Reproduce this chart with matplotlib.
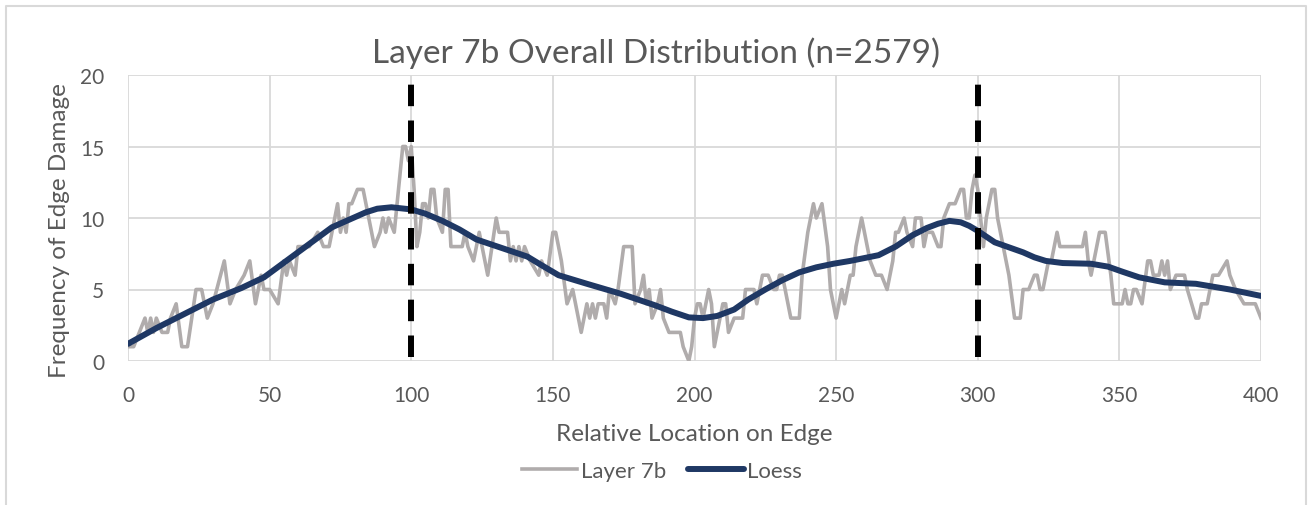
import numpy as np
import matplotlib
matplotlib.use("Agg")
import matplotlib.pyplot as plt
from matplotlib.lines import Line2D

# Layer 7b raw counts
layer_x = [0, 2, 4, 6, 7, 8, 9, 10, 12, 14, 15, 17, 19, 21, 24, 26, 28, 30, 34, 36, 38, 41, 43, 45, 47, 48,
           50, 53, 55, 56, 57, 59, 60, 64, 67, 69, 71, 74, 75, 76, 77, 78, 79, 81, 83, 85, 87, 89, 90, 91, 92, 94,
           95, 97, 98, 99, 100, 101, 102, 103, 104, 105, 106, 107, 108, 109, 111, 112, 113, 114, 118, 119, 120,
           122, 124, 125, 127, 130, 131, 134, 135, 136, 137, 138, 139, 140, 142, 145, 146, 148, 150, 151, 152,
           153, 155, 157, 158, 160, 162, 163, 164, 165, 166, 168, 169, 170, 172, 173, 175, 178, 179, 181, 182,
           183, 184, 185, 187, 188, 189, 191, 195, 196, 198, 199, 200, 201, 202, 203, 205, 206, 207, 208, 210,
           211, 212, 214, 217, 218, 221, 222, 224, 226, 228, 229, 230, 231, 232, 234, 237, 238, 240, 242, 243,
           245, 247, 248, 250, 252, 253, 255, 256, 257, 259, 260, 262, 264, 266, 268, 270, 271, 272, 274, 275,
           277, 278, 280, 281, 282, 284, 286, 287, 288, 290, 292, 294, 295, 296, 297, 298, 299, 300, 301, 302,
           303, 305, 306, 307, 309, 311, 313, 315, 316, 318, 320, 321, 322, 323, 325, 326, 328, 329, 337, 338,
           339, 340, 341, 343, 345, 347, 348, 351, 352, 353, 354, 355, 356, 358, 360, 361, 362, 364, 365, 366,
           367, 368, 370, 373, 374, 377, 378, 379, 381, 383, 385, 388, 389, 391, 394, 398, 400]
layer_y = [1, 1, 2, 3, 2, 3, 2, 3, 2, 2, 3, 4, 1, 1, 5, 5, 3, 4, 7, 4, 5, 6, 7, 4, 6, 5,
           5, 4, 7, 6, 7, 6, 8, 8, 9, 8, 8, 11, 9, 10, 9, 11, 11, 12, 12, 10, 8, 9, 10, 9, 10, 9,
           11, 15, 15, 14, 15, 12, 8, 9, 11, 11, 10, 12, 12, 10, 9, 12, 12, 8, 8, 9, 8,
           7, 9, 8, 6, 10, 9, 9, 7, 8, 7, 8, 7, 8, 7, 6, 7, 6, 9, 9, 8,
           7, 4, 5, 4, 2, 4, 3, 4, 3, 4, 4, 3, 5, 4, 5, 8, 8, 4, 5, 6,
           4, 5, 3, 4, 5, 3, 2, 2, 1, 0, 1, 3, 4, 4, 3, 5, 4, 1, 2, 4,
           4, 2, 3, 3, 5, 5, 4, 6, 6, 5, 5, 6, 6, 5, 3, 3, 6, 9, 11, 10,
           11, 8, 5, 3, 5, 4, 6, 6, 8, 10, 9, 7, 6, 6, 5, 7, 9, 9, 10, 9,
           8, 10, 10, 8, 9, 9, 8, 8, 10, 11, 11, 12, 12, 10, 10, 12, 13, 12, 10, 8,
           10, 12, 12, 10, 8, 6, 3, 3, 5, 5, 6, 6, 5, 5, 7, 7, 9, 8, 8, 9,
           7, 6, 7, 9, 9, 6, 4, 4, 5, 4, 4, 5, 5, 4, 7, 7, 6, 6, 7, 6,
           7, 5, 6, 6, 5, 3, 3, 4, 4, 6, 6, 7, 6, 5, 4, 4, 3]

# Loess fit
loess_x = [0, 10, 20, 30, 40, 48, 60, 72, 84, 88, 93, 100, 105, 111, 117, 123, 129, 135, 141, 146, 152,
           162, 174, 186, 192, 198, 203, 208, 214, 219, 225, 231, 237, 243, 249, 255, 260, 265, 271, 277,
           282, 286, 290, 294, 297, 300, 306, 311, 316, 320, 324, 330, 340, 346, 351, 357, 366, 377, 389, 400]
loess_y = [1.2, 2.3, 3.3, 4.3, 5.1, 5.85, 7.6, 9.35, 10.4, 10.65, 10.75, 10.6, 10.3, 9.8, 9.2, 8.5, 8.1,
           7.7, 7.3, 6.7, 6.0, 5.4, 4.7, 3.9, 3.45, 3.05, 3.0, 3.15, 3.6, 4.3, 5.0, 5.65, 6.2, 6.55, 6.8,
           7.0, 7.2, 7.4, 8.0, 8.8, 9.3, 9.6, 9.8, 9.7, 9.45, 9.1, 8.3, 7.95, 7.6, 7.25, 7.0, 6.85, 6.8, 6.6,
           6.25, 5.85, 5.5, 5.4, 5.0, 4.55]

marker_x = [100, 300]
marker_y = [0.3, 20]
x_ticks = [0, 50, 100, 150, 200, 250, 300, 350, 400]
y_ticks = [0, 5, 10, 15, 20]

plt.rcParams['font.family'] = ['Lato', 'DejaVu Sans']
text_col = '#595959'
grid_col = '#d9d9d9'

fig = plt.figure(figsize=(13.12, 5.06), dpi=100)
ax = fig.add_axes([128 / 1312, 1 - 362 / 506, (1261 - 128) / 1312, (362 - 76) / 506])

# outer chart border
fig.add_artist(Line2D([6 / 1312, 6 / 1312, 1306 / 1312, 1306 / 1312], [0, 1 - 7 / 506, 1 - 7 / 506, 0],
                      color=grid_col, lw=1.5, transform=fig.transFigure))

ax.plot(layer_x, layer_y, color='#b0acac', lw=2.6, solid_joinstyle='round', label='Layer 7b', zorder=2)
ax.plot(loess_x, loess_y, color='#1f3864', lw=4.3, solid_capstyle='round', solid_joinstyle='round',
        label='Loess', zorder=3)
for mx in marker_x:
    ax.plot([mx, mx], marker_y, color='black', lw=4.3, dashes=(3.6, 2.4), zorder=4)

ax.set_xlim(0, 400)
ax.set_ylim(0, 20)
ax.set_xticks(x_ticks)
ax.set_yticks(y_ticks)
ax.grid(True, color=grid_col, lw=1.3)
ax.set_axisbelow(True)
for s in ax.spines.values():
    s.set_visible(False)
ax.tick_params(length=0, labelsize=15, labelcolor=text_col)
ax.tick_params(axis='x', pad=17)
ax.tick_params(axis='y', pad=17)

# title is centred on the whole chart, not the plot area
fig.text(0.5, 1 - 53 / 506, 'Layer 7b Overall Distribution (n=2579)', fontsize=24, color=text_col,
         ha='center', va='center')
ax.set_xlabel('Relative Location on Edge', fontsize=17.5, color=text_col, labelpad=13)
ax.set_ylabel('Frequency of Edge Damage', fontsize=17.5, color=text_col, labelpad=4)
ax.yaxis.set_label_coords(-58 / 1133, 0.46)

fig.legend(handles=ax.get_lines()[:2], loc='center', bbox_to_anchor=(0.5 + 6 / 1312, 1 - 472 / 506),
           ncol=2, frameon=False, fontsize=16, labelcolor=text_col, handlelength=2.5,
           handletextpad=0.15, columnspacing=1.0)

fig.savefig('out.png', dpi=100)
